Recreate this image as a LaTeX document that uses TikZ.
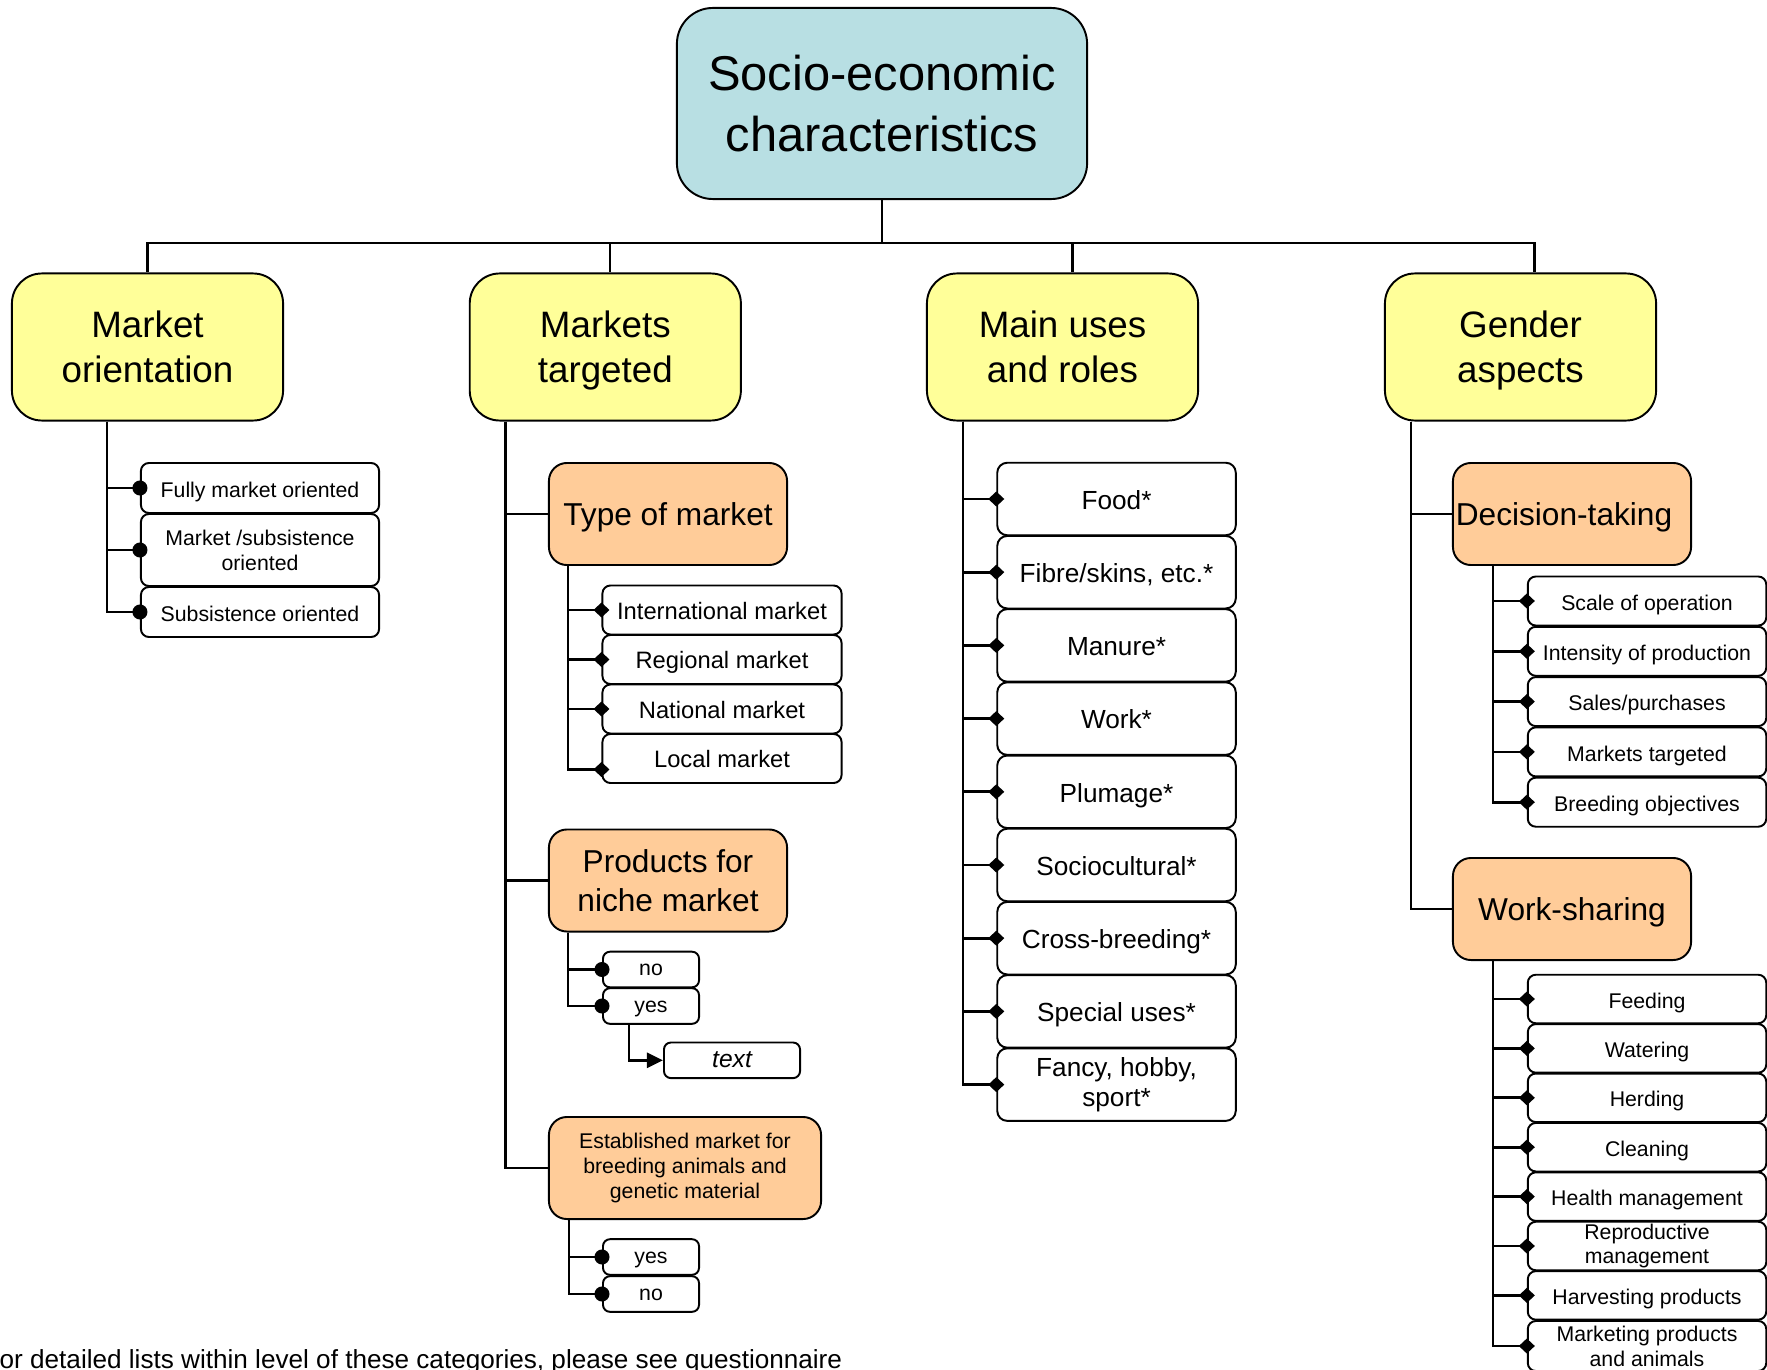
\documentclass[tikz,border=0pt]{standalone}
\usepackage{fontspec}
\setmainfont{Liberation Sans}
\usetikzlibrary{arrows.meta,calc}
\definecolor{topcyan}{RGB}{184,223,227}
\definecolor{catyellow}{RGB}{255,255,153}
\definecolor{suborange}{RGB}{255,204,153}

\begin{document}
\begin{tikzpicture}[x=0.01cm,y=-0.01cm,
  box/.style={draw=black, line width=0.55pt, inner sep=0pt, align=center, anchor=center},
  topbox/.style={box, fill=topcyan, rounded corners=0.36cm, minimum width=4.10cm, minimum height=1.91cm,
    font=\fontsize{13.9}{17.4}\selectfont},
  catbox/.style={box, fill=catyellow, rounded corners=0.30cm, minimum width=2.71cm, minimum height=1.47cm,
    font=\fontsize{10.45}{12.8}\selectfont},
  subbox/.style={box, fill=suborange, rounded corners=0.18cm, minimum width=2.38cm, minimum height=1.02cm,
    font=\fontsize{9}{11.1}\selectfont},
  subone/.style={subbox, text height=6.8pt, text depth=0pt},
  rolebox/.style={box, fill=white, rounded corners=0.10cm, minimum width=2.384cm, minimum height=0.725cm,
    font=\fontsize{7.45}{8.5}\selectfont},
  roleone/.style={rolebox, text height=5.8pt, text depth=0pt},
  mktbox/.style={box, fill=white, rounded corners=0.08cm, minimum width=2.39cm, minimum height=0.49cm,
    font=\fontsize{6.75}{8}\selectfont, text height=5.2pt, text depth=0pt},
  itembox/.style={box, fill=white, rounded corners=0.08cm, minimum width=2.383cm, minimum height=0.49cm,
    font=\fontsize{6.05}{7.1}\selectfont},
  itemone/.style={itembox, text height=5.2pt, text depth=0pt},
  ynbox/.style={box, fill=white, rounded corners=0.07cm, minimum width=0.96cm, minimum height=0.356cm,
    font=\fontsize{6.05}{7.1}\selectfont, text height=3.5pt, text depth=0pt},
  link/.style={line width=0.6pt},
  trunk/.style={line width=0.75pt},
  dotlink/.style={trunk, -{Circle[length=0.15cm]}, shorten >=-0.075cm},
  dialink/.style={trunk, -{Turned Square[length=0.16cm,width=0.15cm]}, shorten >=-0.08cm},
  arrowlink/.style={trunk, -{Triangle[length=0.16cm,width=0.15cm]}}
]
\fill[white] (0,0) rectangle (1767,1370);
\useasboundingbox (0,0) rectangle (1767,1370);

% root and the four categories
\node[topbox] (top) at (882,103.5) {Socio-economic\\characteristics};
\node[catbox] (mo) at (147.5,347) {Market\\orientation};
\node[catbox] (mt) at (605.3,347) {Markets\\\smash{targeted}};
\node[catbox] (mu) at (1062.5,347) {Main uses\\and roles};
\node[catbox] (ga) at (1520.5,347) {Gender\\\smash{aspects}};

% market orientation
\node[itemone, minimum width=2.38cm, minimum height=0.50cm] (fmo) at (260,488) {Fully market oriented};
\node[itembox, minimum width=2.38cm, minimum height=0.72cm] (mso) at (260,550) {Market /subsistence\\oriented};
\node[itemone, minimum width=2.38cm, minimum height=0.50cm] (so) at (260,612) {Subsistence oriented};

% markets targeted
\node[subone] (tm) at (668,514) {Type of market};
\node[mktbox] (im) at (722,610) {International market};
\node[mktbox] (rm) at (722,659.5) {Regional market};
\node[mktbox] (nm) at (722,709) {National market};
\node[mktbox] (lm) at (722,758.5) {Local market};

\node[subbox] (pn) at (668,880.5) {Products for\\niche market};
\node[ynbox] (no1) at (651,969.5) {no};
\node[ynbox] (yes1) at (651,1006) {yes};
\node[ynbox, minimum width=1.36cm, text height=4.2pt, font=\fontsize{7}{8}\selectfont\itshape] (txt) at (732,1060.3) {text};

\node[subbox, minimum width=2.72cm, font=\fontsize{6.05}{7.1}\selectfont] (em) at (685,1168)
  {Established market for\\breeding animals and\\genetic material};
\node[ynbox] (yes2) at (651,1257) {yes};
\node[ynbox] (no2) at (651,1294) {no};

% main uses and roles
\node[roleone] (r0) at (1116.5,499) {Food*};
\node[roleone] (r1) at (1116.5,572.2) {Fibre/skins, etc.*};
\node[roleone] (r2) at (1116.5,645.4) {Manure*};
\node[roleone] (r3) at (1116.5,718.6) {Work*};
\node[roleone] (r4) at (1116.5,791.8) {Plumage*};
\node[roleone] (r5) at (1116.5,865) {Sociocultural*};
\node[roleone] (r6) at (1116.5,938.2) {Cross-breeding*};
\node[roleone] (r7) at (1116.5,1011.4) {Special uses*};
\node[rolebox] (r8) at (1116.5,1084.6) {Fancy, hobby,\\sport*};

% gender aspects
\node[subone] (dt) at (1572,514) {Decision-taking\hspace*{0.16cm}};
\foreach \t [count=\i from 0] in {Scale of operation, Intensity of production, Sales/purchases,
    Markets targeted, Breeding objectives}
  \node[itemone] (g\i) at (1647,{601+50.3*\i}) {\t};

\node[subone] (ws) at (1572,909) {Work-sharing};
\node[itemone, minimum height=0.485cm] (w0) at (1647,999) {Feeding};
\node[itemone, minimum height=0.485cm] (w1) at (1647,1048.4) {Watering};
\node[itemone, minimum height=0.485cm] (w2) at (1647,1097.8) {Herding};
\node[itemone, minimum height=0.485cm] (w3) at (1647,1147.2) {Cleaning};
\node[itemone, minimum height=0.485cm] (w4) at (1647,1196.6) {Health management};
\node[itembox, minimum height=0.485cm] (w5) at (1647,1246) {Reproductive\\management};
\node[itemone, minimum height=0.485cm] (w6) at (1647,1295.4) {Harvesting products};
\node[itembox, minimum height=0.50cm] (w7) at (1647,1346) {Marketing products\\and animals};

% root to categories
\coordinate (bar) at ($(top.south)+(0,43)$);
\draw[link] (top.south) -- (bar);
\draw[link] (bar) -| (mo.north);
\draw[link] (bar) -| ([xshift=0.05cm]mt.north);
\draw[link] (bar) -| ([xshift=0.10cm]mu.north);
\draw[link] (bar) -| ([xshift=0.14cm]ga.north);

% category trunks
\coordinate (moT) at ($(mo.south west)+(96,0)$);
\coordinate (mtT) at ($(mt.south west)+(37,0)$);
\coordinate (muT) at ($(mu.south west)+(37,0)$);
\coordinate (gaT) at ($(ga.south west)+(27,0)$);

\foreach \n in {fmo,mso,so} \draw[dotlink] (moT) |- (\n.west);

\foreach \n in {tm,pn,em} \draw[trunk] (mtT) |- (\n.west);
\coordinate (tmT) at ($(tm.south west)+(20,0)$);
\foreach \n in {im,rm,nm} \draw[dialink] (tmT) |- (\n.west);
\draw[dialink] (tmT) |- ([yshift=-0.11cm]lm.west);
\coordinate (pnT) at ($(pn.south west)+(20,0)$);
\foreach \n in {no1,yes1} \draw[dotlink] (pnT) |- (\n.west);
\draw[arrowlink] ($(yes1.south west)+(27,0)$) |- (txt.west);
\coordinate (emT) at ($(em.south west)+(21,0)$);
\foreach \n in {yes2,no2} \draw[dotlink] (emT) |- (\n.west);

\foreach \i in {0,...,8} \draw[dialink] (muT) |- (r\i.west);

\foreach \n in {dt,ws} \draw[trunk] (gaT) |- (\n.west);
\coordinate (dtT) at ($(dt.south west)+(41,0)$);
\foreach \i in {0,...,4} \draw[dialink] (dtT) |- (g\i.west);
\coordinate (wsT) at ($(ws.south west)+(41,0)$);
\foreach \i in {0,...,7} \draw[dialink] (wsT) |- (w\i.west);

% footnote
\node[anchor=base west, inner sep=0pt, font=\fontsize{7.43}{9}\selectfont] (note) at (-1,1368)
  {or detailed lists within level of these categories, please see questionnaire};
\end{tikzpicture}
\end{document}
